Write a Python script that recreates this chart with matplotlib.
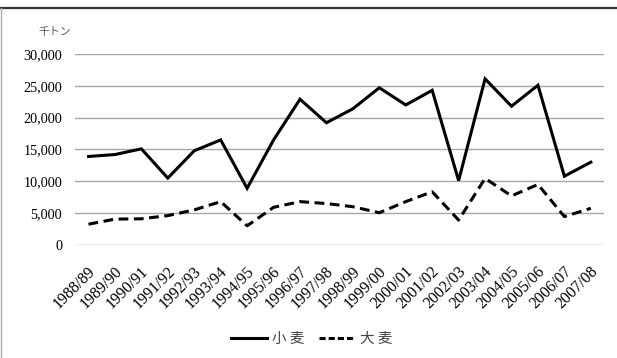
import matplotlib.pyplot as plt
from matplotlib.lines import Line2D
import matplotlib.transforms as mtransforms

plt.rcParams['font.family'] = ['Liberation Serif', 'Noto Sans CJK JP']

years = ['1988/89', '1989/90', '1990/91', '1991/92', '1992/93', '1993/94',
         '1994/95', '1995/96', '1996/97', '1997/98', '1998/99', '1999/00',
         '2000/01', '2001/02', '2002/03', '2003/04', '2004/05', '2005/06',
         '2006/07', '2007/08']
wheat = [13900, 14200, 15100, 10500, 14800, 16500, 8900, 16500, 22900, 19200,
         21400, 24700, 22000, 24300, 10100, 26100, 21800, 25100, 10800, 13000]
barley = [3250, 4050, 4100, 4600, 5500, 6800, 3000, 5900, 6800, 6500,
          6000, 5050, 6800, 8350, 3900, 10450, 7700, 9500, 4450, 5750]
yticks = [0, 5000, 10000, 15000, 20000, 25000, 30000]

fig = plt.figure(figsize=(6.17, 3.58), dpi=100)
ax = fig.add_axes([0.122, 0.316, 0.857, 0.533])

x = range(len(years))
ax.plot(x, wheat, color='black', lw=2.2, solid_joinstyle='miter')
ax.plot(x, barley, color='black', lw=2.2, dashes=(3.2, 1.8))

ax.set_xlim(-0.5, len(years) - 0.5)
ax.set_ylim(0, 30000)
ax.set_yticks(yticks)
ax.set_yticklabels(['{:,}'.format(v) for v in yticks], fontsize=10.3)
ax.yaxis.grid(True, color='#a6a6a6', lw=1)
ax.set_axisbelow(True)
for s in ax.spines.values():
    s.set_visible(False)
ax.tick_params(length=0)
ax.tick_params(axis='y', pad=9.5)
ax.set_xticks(list(x))
ax.set_xticklabels(years, rotation=45, ha='right', va='top',
                   rotation_mode='anchor', fontsize=11.5)
offset = mtransforms.ScaledTranslation(-1 / 100, -14 / 100, fig.dpi_scale_trans)
for lab in ax.get_xticklabels():
    lab.set_transform(lab.get_transform() + offset)

fig.text(0.063, 0.903, '千トン', fontsize=7.8, color='#555555',
         family=['Noto Sans CJK JP'])

handles = [Line2D([], [], color='black', lw=2.2),
           Line2D([], [], color='black', lw=2.2, dashes=(2.0, 1.0))]
fig.legend(handles, ['小 麦', '大 麦'], loc='center', bbox_to_anchor=(0.505, 0.053),
           ncol=2, frameon=False, handlelength=2.5, handletextpad=0.3,
           columnspacing=1.0, labelcolor='#444444',
           prop={'family': ['Noto Sans CJK JP'], 'size': 10.5})

# frame lines
fig.add_artist(Line2D([0, 1], [0.978, 0.978], color='#333333', lw=1.6,
                      transform=fig.transFigure))
fig.add_artist(Line2D([0.001, 0.001], [0, 0.978], color='#aaaaaa', lw=1,
                      transform=fig.transFigure))

fig.savefig('out.png', dpi=100)
